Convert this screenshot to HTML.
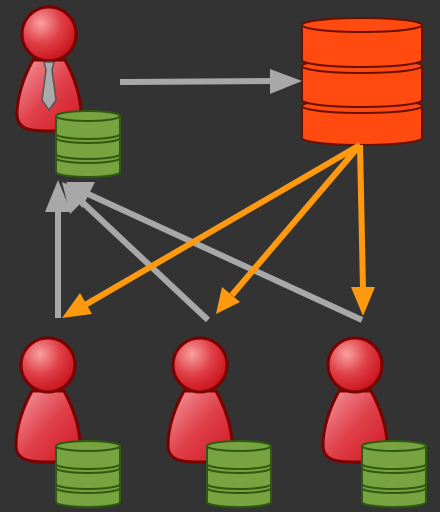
<!DOCTYPE html>
<html><head><style>html,body{margin:0;padding:0;background:#333;}svg{display:block}</style></head><body>
<svg width="440" height="512" viewBox="0 0 440 512" xmlns="http://www.w3.org/2000/svg">
<defs>
<radialGradient id="hg" cx="0.35" cy="0.3" r="0.75"><stop offset="0" stop-color="#f8a0a0"/><stop offset="0.5" stop-color="#e04048"/><stop offset="1" stop-color="#c8101a"/></radialGradient>
<linearGradient id="bg" x1="0" y1="0" x2="1" y2="1"><stop offset="0" stop-color="#f49aa0"/><stop offset="0.5" stop-color="#e0404a"/><stop offset="1" stop-color="#d01822"/></linearGradient>
<g id="person">
<path d="M-16,26 C-26,44 -32,64 -32,80 C-32,96 -18,97 0,97 C18,97 32,96 32,80 C32,64 26,44 16,26 Z" fill="url(#bg)" stroke="#7a0000" stroke-width="3"/>
<circle cx="0" cy="0" r="27" fill="url(#hg)" stroke="#7a0000" stroke-width="3"/>
</g>
<g id="gdb">
<path d="M0,6 L0,62 A32,5 0 0 0 64,62 L64,6" fill="#77a340" stroke="#2f5a10" stroke-width="2"/>
<ellipse cx="32" cy="6" rx="32" ry="5" fill="#77a340" stroke="#2f5a10" stroke-width="2"/>
<path d="M0,24 A32,5 0 0 0 64,24 M0,28 A32,5 0 0 0 64,28 M0,44 A32,5 0 0 0 64,44 M0,48 A32,5 0 0 0 64,48" fill="none" stroke="#2f5a10" stroke-width="2"/>
</g>
</defs>
<use href="#person" x="49" y="34"/>
<path d="M44,62 L54,62 L52,70 L56,100 L49,110 L42,100 L46,70 Z" fill="#aaa" stroke="#555" stroke-width="1.5"/>
<use href="#gdb" x="56" y="110"/>
<g stroke="#6a1000" stroke-width="2" fill="#ff4a10">
<path d="M302,106 L302,138 A60,7 0 0 0 422,138 L422,106"/>
<path d="M302,106 A60,7 0 0 0 422,106 A60,7 0 0 0 302,106Z"/>
<path d="M302,66 L302,100 A60,7 0 0 0 422,100 L422,66"/>
<path d="M302,66 A60,7 0 0 0 422,66 A60,7 0 0 0 302,66Z"/>
<path d="M302,25 L302,60 A60,7 0 0 0 422,60 L422,25"/>
<ellipse cx="362" cy="25" rx="60" ry="7"/>
</g>
<g stroke="#a8a8a8" stroke-width="6" fill="none">
<line x1="120" y1="82" x2="275" y2="81"/>
<line x1="58" y1="318" x2="58" y2="205"/>
<line x1="208" y1="320" x2="80" y2="200"/>
<line x1="362" y1="320" x2="88" y2="194"/>
</g>
<g fill="#a8a8a8">
<polygon points="302,81 270,69 270,94"/>
<polygon points="58,180 45,212 71,212"/>
<polygon points="62,182 70,214 90,194"/>
<polygon points="66,182 82,208 95,182"/>
</g>
<g stroke="#ff9a10" stroke-width="6" fill="none">
<line x1="360" y1="145" x2="85" y2="305"/>
<line x1="360" y1="145" x2="232" y2="295"/>
<line x1="360" y1="145" x2="363" y2="290"/>
</g>
<g fill="#ff9a10">
<polygon points="62,318 80,293 92,314"/>
<polygon points="216,314 222,287 240,302"/>
<polygon points="363,316 351,287 375,287"/>
</g>
<use href="#person" x="48" y="365"/>
<use href="#person" x="200" y="365"/>
<use href="#person" x="355" y="365"/>
<use href="#gdb" x="56" y="440"/>
<use href="#gdb" x="207" y="440"/>
<use href="#gdb" x="362" y="440"/>
</svg>
</body></html>
